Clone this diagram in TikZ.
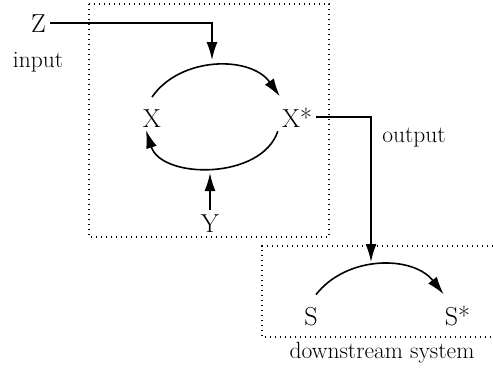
\documentclass[tikz,border=0pt]{standalone}
\usetikzlibrary{arrows.meta}
\begin{document}
\begin{tikzpicture}[x=1pt,y=1pt,
  letter/.style={font=\fontsize{26}{30}\selectfont, inner sep=4pt, anchor=base},
  lab/.style={font=\fontsize{23.5}{28}\selectfont, inner sep=0pt, anchor=base},
  conn/.style={line width=1.6pt},
  arr/.style={conn, -{Latex[length=18pt,width=11pt]}},
  dotbox/.style={line width=1.4pt, dash pattern=on 1.4pt off 3.6pt}]
\useasboundingbox (0,0) rectangle (493,-368);
% boxes
\draw[dotbox] (89,-4) rectangle (329,-237);
\draw[dotbox] (493,-246) -- (262,-246) -- (262,-337) -- (493,-337);
% nodes
\node[letter] (Z) at (38.5,-32) {Z};
\node[lab] (input) at (38,-67) {input};
\node[letter] (X) at (152,-127) {X};
\node[letter] (Xs) at (297,-127) {X*};
\node[letter] (Y) at (210,-232) {Y};
\node[lab] (output) at (414,-142) {output};
\node[letter] (S) at (311,-325) {S};
\node[letter] (Ss) at (457.5,-325) {S*};
\node[lab] (down) at (382,-358) {downstream system};
% free-end coordinates
\coordinate (ztip) at (212,-60);
\coordinate (ytip) at (210,-173);
\coordinate (otip) at (371,-262);
% connectors
\draw[arr] ([yshift=8pt]X.north) to[bend left=55] ([xshift=2pt,yshift=7pt]Xs.north west);
\draw[arr] (Xs.south west) to[bend left=72] ([xshift=-6pt,yshift=1pt]X.south);
\draw[arr] ([xshift=5pt,yshift=8pt]S.north) to[bend left=52] ([xshift=3pt,yshift=7pt]Ss.north west);
\draw[arr] (Z.east) -| (ztip);
\draw[arr] (Y.north) -- (ytip);
\draw[arr] (Xs.east) -| (otip);
\end{tikzpicture}
\end{document}
